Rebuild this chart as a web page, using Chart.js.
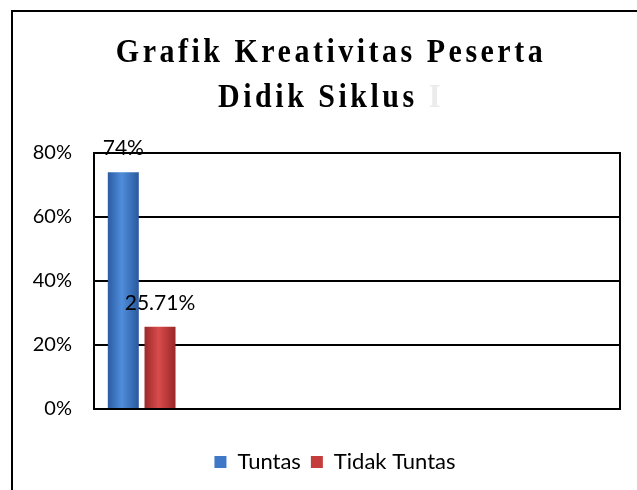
<!DOCTYPE html>
<html>
<head>
<meta charset="utf-8">
<script src="https://cdn.jsdelivr.net/npm/chart.js@4.4.1/dist/chart.umd.min.js"></script>
<style>
  html, body { margin:0; padding:0; background:#fff; overflow:hidden; width:637px; height:490px; }
  #frame { position:absolute; left:11px; top:10px; width:660px; height:520px; border:2px solid #000; box-sizing:border-box; }
  #wrap { position:absolute; left:0; top:0; width:662px; height:490px; }
</style>
</head>
<body>
<div id="frame"></div>
<div id="wrap"><canvas id="chart"></canvas></div>
<script>
// data
const categories = ['Siklus I', '', '', '', ''];
const tuntas = [74, null, null, null, null];
const tidakTuntas = [25.71, null, null, null, null];
const seriesNames = ['Tuntas', 'Tidak Tuntas'];
const yTicks = [0, 20, 40, 60, 80];
const titleLines = ['Grafik Kreativitas Peserta', 'Didik Siklus'];
const titleTail = 'I';

const solid = ['#3f78c6', '#c43c3c'];
const shades = [
  ['#2b5ba3', '#4f8ddb', '#2a599e'],
  ['#9a2a2a', '#d84c4b', '#992828']
];

function barFill(di){
  return function(c){
    const bar = c.chart.getDatasetMeta(c.datasetIndex).data[c.dataIndex];
    if(!bar || !isFinite(bar.x) || !bar.width) return solid[di];
    const x0 = bar.x - bar.width/2, x1 = bar.x + bar.width/2;
    const g = c.chart.ctx.createLinearGradient(x0, 0, x1, 0);
    g.addColorStop(0, shades[di][0]);
    g.addColorStop(0.45, shades[di][1]);
    g.addColorStop(1, shades[di][2]);
    return g;
  };
}

const titlePlugin = {
  id:'titleText',
  afterDraw(chart){
    const ctx = chart.ctx;
    const cx = 331;
    ctx.save();
    ctx.font = 'bold 30px "Liberation Serif"';
    ctx.letterSpacing = '3.5px';
    ctx.textBaseline = 'alphabetic';
    ctx.fillStyle = '#000';
    // line 1
    ctx.save();
    ctx.translate(cx, 62);
    ctx.scale(1, 1.1);
    ctx.textAlign = 'center';
    ctx.fillText(titleLines[0], 0, 0);
    ctx.restore();
    // line 2 with faint last letter
    const head = titleLines[1] + ' ';
    const wHead = ctx.measureText(head).width;
    const wAll = ctx.measureText(head + titleTail).width;
    ctx.save();
    ctx.translate(cx - wAll/2, 107);
    ctx.scale(1, 1.1);
    ctx.textAlign = 'left';
    ctx.fillText(head, 0, 0);
    ctx.fillStyle = '#ececec';
    ctx.fillText(titleTail, wHead, 0);
    ctx.restore();
    ctx.restore();
  }
};

const framePlugin = {
  id:'plotFrame',
  beforeDatasetsDraw(chart){
    const {ctx, chartArea:a} = chart;
    ctx.save();
    ctx.strokeStyle = '#000';
    ctx.lineWidth = 2;
    ctx.beginPath();
    ctx.moveTo(a.right, a.top - 1);
    ctx.lineTo(a.right, a.bottom + 1);
    ctx.stroke();
    ctx.restore();
  }
};

// legend sits a little right of centre in the original
const legendShift = {
  id:'legendShift',
  afterLayout(chart){
    if(chart.legend){ chart.legend.left += 10; chart.legend.right += 10; }
  }
};

const valuePlugin = {
  id:'valueLabels',
  afterDatasetsDraw(chart){
    const ctx = chart.ctx;
    ctx.save();
    ctx.font = '21px Lato';
    ctx.fillStyle = '#000';
    ctx.textAlign = 'center';
    ctx.textBaseline = 'alphabetic';
    chart.data.datasets.forEach((ds, di)=>{
      chart.getDatasetMeta(di).data.forEach((bar, i)=>{
        const v = ds.data[i];
        if(v == null) return;
        ctx.fillText(v + '%', bar.x, bar.y - 17);
      });
    });
    ctx.restore();
  }
};

const chart = new Chart(document.getElementById('chart'), {
  type:'bar',
  data:{
    labels:categories,
    datasets:[
      {label:seriesNames[0], data:tuntas, backgroundColor:barFill(0), borderWidth:0,
       categoryPercentage:0.886, barPercentage:0.665},
      {label:seriesNames[1], data:tidakTuntas, backgroundColor:barFill(1), borderWidth:0,
       categoryPercentage:0.51, barPercentage:1.155}
    ]
  },
  options:{
    responsive:true,
    maintainAspectRatio:false,
    animation:false,
    devicePixelRatio:1,
    layout:{padding:{top:153, left:30, right:42, bottom:7}},
    plugins:{
      title:{display:false},
      tooltip:{enabled:false},
      legend:{
        position:'bottom',
        align:'center',
        labels:{
          color:'#000',
          font:{family:'Lato', size:22},
          boxWidth:12,
          boxHeight:12,
          padding:10,
          generateLabels(chart){
            return chart.data.datasets.map((ds, i)=>({
              text:ds.label, fillStyle:solid[i], strokeStyle:solid[i], lineWidth:0,
              hidden:false, datasetIndex:i, fontColor:'#000'
            }));
          }
        }
      }
    },
    scales:{
      x:{
        ticks:{display:false},
        grid:{display:false, drawTicks:false},
        border:{color:'#000', width:2},
        afterFit(s){ s.height = 32; }
      },
      y:{
        min:yTicks[0],
        max:yTicks[yTicks.length-1],
        afterBuildTicks(s){ s.ticks = yTicks.map(v=>({value:v})); },
        ticks:{
          color:'#000',
          font:{family:'Lato', size:20},
          padding:22,
          callback:v=>v + '%'
        },
        grid:{color:'#000', lineWidth:2, drawTicks:false},
        border:{color:'#000', width:2},
        afterFit(s){ s.width = 64; }
      }
    }
  },
  plugins:[titlePlugin, framePlugin, legendShift, valuePlugin]
});
chart.update('none');
</script>
</body>
</html>
